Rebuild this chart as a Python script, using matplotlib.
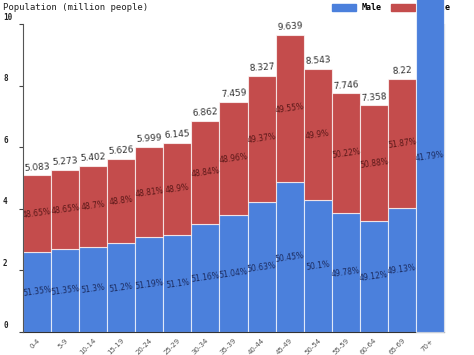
import matplotlib.pyplot as plt
import numpy as np
from matplotlib.patches import Patch

ages = ["0-4", "5-9", "10-14", "15-19", "20-24", "25-29", "30-34", "35-39",
        "40-44", "45-49", "50-54", "55-59", "60-64", "65-69", "70+"]
totals = [5.083, 5.273, 5.402, 5.626, 5.999, 6.145, 6.862, 7.459,
          8.327, 9.639, 8.543, 7.746, 7.358, 8.22, 27.23]
male_pct = [51.35, 51.35, 51.3, 51.2, 51.19, 51.1, 51.16, 51.04,
            50.63, 50.45, 50.1, 49.78, 49.12, 49.13, 41.79]
female_pct = [48.65, 48.65, 48.7, 48.8, 48.81, 48.9, 48.84, 48.96,
              49.37, 49.55, 49.9, 50.22, 50.88, 51.87, 58.21]
yticks = [0, 2, 4, 6, 8, 10]

blue = "#4b80dc"
red = "#c44c4c"

totals = np.array(totals)
male = totals * np.array(male_pct) / 100
female = totals - male
x = np.arange(len(ages))

fig = plt.figure(figsize=(4.74, 3.55), dpi=100)
ax = fig.add_axes([23 / 474, 23 / 355, 421 / 474, 308 / 355])

bm = ax.bar(x, male, width=1, color=blue, edgecolor=(1, 1, 1, 0.7), linewidth=0.8, zorder=2)
bf = ax.bar(x, female, bottom=male, width=1, color=red, edgecolor=(1, 1, 1, 0.7), linewidth=0.8, zorder=2)
# last bar runs off the top of the plot
bm[-1].set_clip_on(False)
bm[-1].set_zorder(10)
bf[-1].set_clip_on(False)
bf[-1].set_zorder(10)

ax.set_xlim(-0.5, len(ages) - 0.5)
ax.set_ylim(0, 10)

for i in range(len(ages)):
    if totals[i] < 10:
        ax.annotate(f"{totals[i]:g}", (x[i], totals[i]), xytext=(0, 2), textcoords="offset points",
                    ha="center", va="bottom", fontsize=6.5, color="#333333", rotation=4)
    ax.text(x[i], male[i] / 2, f"{male_pct[i]:g}%", ha="center", va="center",
            fontsize=5.5, color="#1c2c60", rotation=8, clip_on=True, zorder=11)
    if male[i] + female[i] / 2 < 10:
        ax.text(x[i], male[i] + female[i] / 2, f"{female_pct[i]:g}%", ha="center", va="center",
                fontsize=5.5, color="#5a1818", rotation=8, clip_on=True, zorder=11)

ax.set_xticks(x)
ax.set_xticklabels(ages, rotation=45, ha="right", rotation_mode="anchor", fontsize=5, color="#555555")
ax.tick_params(axis="x", length=0, pad=4)

ax.set_yticks(yticks)
ax.set_yticklabels([])
ax.tick_params(axis="y", length=3, width=0.8, color="#444444", direction="out")
for t in yticks:
    ax.annotate(str(t), (3 / 474, t), xycoords=("figure fraction", "data"), xytext=(0, 5),
                textcoords="offset points", ha="left", va="center", fontsize=5.5,
                family="DejaVu Sans Mono", weight="bold", color="#222222", annotation_clip=False)

ax.spines["top"].set_visible(False)
ax.spines["left"].set_color("#555555")
ax.spines["right"].set_color("#999999")
ax.spines["bottom"].set_color("#333333")
ax.spines["left"].set_zorder(12)

fig.text(3 / 474, 1 - 8 / 355, "Population (million people)", ha="left", va="center",
         fontsize=6.5, family="DejaVu Sans Mono", color="#222222")

handles = [Patch(color=blue, label="Male"), Patch(color=red, label="Female")]
leg = ax.legend(handles=handles, loc="center left", bbox_to_anchor=(332 / 474, 1 - 8 / 355),
                bbox_transform=fig.transFigure, ncol=2, frameon=False, borderpad=0, borderaxespad=0,
                handlelength=2.9, handleheight=0.8, handletextpad=0.6, columnspacing=1.2,
                prop={"family": "DejaVu Sans Mono", "weight": "bold", "size": 6})
leg.set_zorder(5)

fig.savefig("out.png", dpi=100)
